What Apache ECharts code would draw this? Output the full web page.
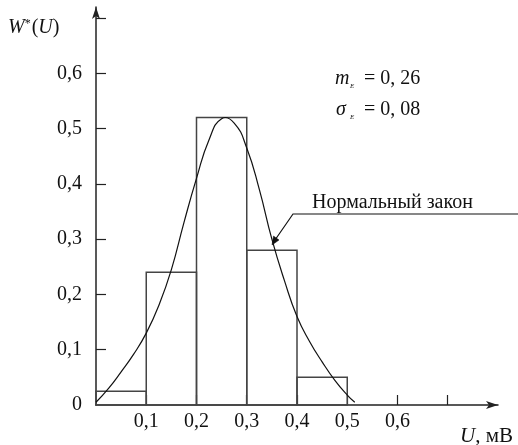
<!DOCTYPE html>
<html>
<head>
<meta charset="utf-8">
<script src="https://cdn.jsdelivr.net/npm/echarts@6/dist/echarts.min.js"></script>
<style>
html,body{margin:0;padding:0;background:#fff;}
#c{width:518px;height:445px;}
</style>
</head>
<body>
<div id="c"></div>
<script>
// Histogram bins (U, мВ) and relative frequencies W*(U)
const binStarts = [0.0, 0.1, 0.2, 0.3, 0.4];
const binEnds   = [0.1, 0.2, 0.3, 0.4, 0.5];
const binHeights = [0.025, 0.24, 0.52, 0.28, 0.05];

// Normal-law curve
const curveX = [0.0, 0.025, 0.05, 0.075, 0.1, 0.125, 0.15, 0.175, 0.2, 0.225, 0.25, 0.275, 0.3, 0.325, 0.35, 0.375, 0.4, 0.425, 0.45, 0.475, 0.5, 0.515];
const curveY = [0.005, 0.03, 0.06, 0.092, 0.13, 0.18, 0.245, 0.33, 0.41, 0.48, 0.518, 0.51, 0.465, 0.39, 0.30, 0.225, 0.16, 0.115, 0.078, 0.045, 0.018, 0.005];

// Axis ticks / labels
const xTickValues = [0.1, 0.2, 0.3, 0.4, 0.5, 0.6, 0.7];
const xLabelValues = [0.1, 0.2, 0.3, 0.4, 0.5, 0.6];
const yTickValues = [0.1, 0.2, 0.3, 0.4, 0.5, 0.6, 0.7];
const yLabelValues = [0, 0.1, 0.2, 0.3, 0.4, 0.5, 0.6];

const FONT = 'Liberation Serif';
const fmt = v => (Math.abs(v) < 1e-9 ? '0' : v.toFixed(1).replace('.', ','));

const chart = echarts.init(document.getElementById('c'), null, {renderer: 'canvas'});

const barData = binStarts.map((s, i) => [s, binEnds[i], binHeights[i]]);
const curveData = curveX.map((x, i) => [x, curveY[i]]);

chart.setOption({
  backgroundColor: '#fff',
  animation: false,
  grid: {left: 96, right: 20, top: 7, bottom: 40},
  xAxis: {
    type: 'value', min: 0, max: 0.8,
    axisLine: {show: true, onZero: false, lineStyle: {color: '#222', width: 1.5},
               symbol: ['none', 'arrow'], symbolSize: [6, 12]},
    axisTick: {show: true, inside: true, length: 10, customValues: xTickValues,
               lineStyle: {color: '#222', width: 1.2}},
    axisLabel: {customValues: xLabelValues, formatter: fmt, color: '#111',
                fontFamily: FONT, fontSize: 20, margin: 7},
    splitLine: {show: false}
  },
  yAxis: {
    type: 'value', min: 0, max: 0.72,
    axisLine: {show: true, onZero: false, lineStyle: {color: '#222', width: 1.5},
               symbol: ['none', 'arrow'], symbolSize: [6, 12]},
    axisTick: {show: true, inside: true, length: 10, customValues: yTickValues,
               lineStyle: {color: '#222', width: 1.2}},
    axisLabel: {customValues: yLabelValues, formatter: fmt, color: '#111',
                fontFamily: FONT, fontSize: 20, margin: 14},
    splitLine: {show: false}
  },
  series: [
    {
      type: 'custom',
      data: barData,
      z: 2,
      renderItem: function (params, api) {
        const p0 = api.coord([api.value(0), 0]);
        const p1 = api.coord([api.value(1), api.value(2)]);
        return {
          type: 'rect',
          shape: {x: p0[0], y: p1[1], width: p1[0] - p0[0], height: p0[1] - p1[1]},
          style: {fill: 'none', stroke: '#444', lineWidth: 1.5}
        };
      }
    },
    {
      type: 'custom',
      data: curveData,
      z: 3,
      renderItem: function (params, api) {
        if (params.dataIndex !== 0) return null;
        const pts = curveData.map(d => api.coord(d));
        return {
          type: 'polyline',
          shape: {points: pts, smooth: 0.5},
          style: {fill: 'none', stroke: '#111', lineWidth: 1.2}
        };
      }
    }
  ],
  graphic: [
    {type: 'text', x: 8, y: 28, style: {
      text: '{i|W}{s|*}{n|(}{i|U}{n|)}', verticalAlign: 'middle',
      rich: {
        i: {fontFamily: FONT, fontStyle: 'italic', fontSize: 20, fill: '#111'},
        n: {fontFamily: FONT, fontSize: 20, fill: '#111'},
        s: {fontFamily: FONT, fontSize: 12, fill: '#111', verticalAlign: 'top', padding: [0, 1, 8, 0]}
      }}},
    {type: 'text', x: 460, y: 436, style: {
      text: '{i|U}{n|, мВ}', verticalAlign: 'middle',
      rich: {
        i: {fontFamily: FONT, fontStyle: 'italic', fontSize: 21, fill: '#111'},
        n: {fontFamily: FONT, fontSize: 21, fill: '#111'}
      }}},
    // m_E
    {type: 'text', x: 335, y: 79, style: {text: 'm', font: 'italic 20px ' + FONT, fill: '#111', verticalAlign: 'middle'}},
    {type: 'text', x: 350, y: 86, style: {text: 'E', font: 'italic 7px ' + FONT, fill: '#111', verticalAlign: 'middle'}},
    {type: 'text', x: 364, y: 79, style: {text: '= 0, 26', font: '20px ' + FONT, fill: '#111', verticalAlign: 'middle'}},
    // sigma_E
    {type: 'text', x: 336, y: 110, style: {text: 'σ', font: 'italic 20px ' + FONT, fill: '#111', verticalAlign: 'middle'}},
    {type: 'text', x: 350, y: 117, style: {text: 'E', font: 'italic 7px ' + FONT, fill: '#111', verticalAlign: 'middle'}},
    {type: 'text', x: 364, y: 110, style: {text: '= 0, 08', font: '20px ' + FONT, fill: '#111', verticalAlign: 'middle'}},
    // Normal law label with leader
    {type: 'text', x: 312, y: 203, style: {text: 'Нормальный закон', font: '20px ' + FONT, fill: '#111', verticalAlign: 'middle'}},
    {type: 'polyline', shape: {points: [[518, 214], [293, 214], [275, 240]]}, style: {stroke: '#111', lineWidth: 1.2, fill: 'none'}},
    {type: 'polygon', shape: {points: [[272, 245], [273.5, 236], [279, 240]]}, style: {fill: '#111', stroke: '#111', lineWidth: 0.5}}
  ]
});
</script>
</body>
</html>
